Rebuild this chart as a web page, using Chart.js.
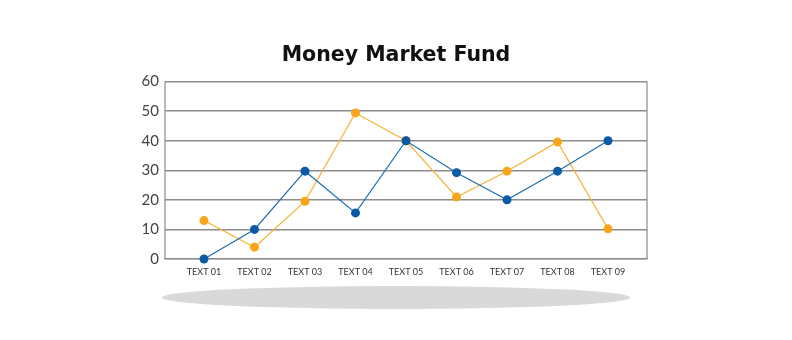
<!DOCTYPE html>
<html>
<head>
<meta charset="utf-8">
<script src="https://cdn.jsdelivr.net/npm/chart.js@4"></script>
<style>
  body { margin: 0; background: #fff; }
  #wrap { position: relative; width: 792px; height: 340px; }
  #shadow { position: absolute; left: 162px; top: 286px; width: 468px; height: 23px; border-radius: 50%; background: #d9d9d9; }
  canvas { position: absolute; left: 0; top: 0; }
</style>
</head>
<body>
<div id="wrap">
  <div id="shadow"></div>
  <canvas id="chart" width="792" height="340"></canvas>
</div>
<script>
const labels = ["TEXT 01", "TEXT 02", "TEXT 03", "TEXT 04", "TEXT 05", "TEXT 06", "TEXT 07", "TEXT 08", "TEXT 09"];
const blueValues = [0, 10, 29.7, 15.6, 40, 29.2, 20, 29.7, 40];
const orangeValues = [13, 4, 19.5, 49.4, 40, 21, 29.7, 39.6, 10.2];
const yTicks = [0, 10, 20, 30, 40, 50, 60];

function toPoints(vals) {
    return vals.map((v, i) => ({ x: i, y: v }));
}

// box round the plot area
const frame = {
    id: 'frame',
    beforeDatasetsDraw(chart) {
        const a = chart.chartArea;
        const ctx = chart.ctx;
        ctx.save();
        ctx.strokeStyle = '#8c8c8c';
        ctx.lineWidth = 1.2;
        ctx.beginPath();
        ctx.moveTo(a.left, a.top);
        ctx.lineTo(a.left, a.bottom);
        ctx.moveTo(a.right, a.top);
        ctx.lineTo(a.right, a.bottom);
        ctx.stroke();
        ctx.restore();
    }
};

new Chart(document.getElementById("chart"), {
    type: 'line',
    data: {
        datasets: [{
            label: 'A',
            data: toPoints(blueValues),
            borderColor: '#1f6fb5',
            backgroundColor: '#0b5aa6',
            borderWidth: 1.2,
            pointRadius: 4.5,
            pointBorderWidth: 0,
            tension: 0,
            clip: false
        }, {
            label: 'B',
            data: toPoints(orangeValues),
            borderColor: '#f9b233',
            backgroundColor: '#f9a51a',
            borderWidth: 1.2,
            pointRadius: 4.5,
            pointBorderWidth: 0,
            tension: 0,
            clip: false
        }]
    },
    options: {
        responsive: false,
        animation: false,
        layout: { padding: { left: 124, right: 124, top: 0, bottom: 61 } },
        plugins: {
            legend: { display: false },
            tooltip: { enabled: false },
            title: {
                display: true,
                text: 'Money Market Fund',
                color: '#111',
                font: { family: 'DejaVu Sans', size: 20.5, weight: 'bold' },
                padding: { top: 43, bottom: 14 }
            }
        },
        scales: {
            x: {
                type: 'linear',
                min: -0.772,
                max: 8.772,
                afterFit: s => { s.height = 20; },
                grid: { display: false },
                border: { color: '#8c8c8c', width: 1.2 },
                ticks: {
                    stepSize: 1,
                    includeBounds: false,
                    autoSkip: false,
                    maxRotation: 0,
                    padding: 0,
                    color: '#333',
                    font: { family: 'Lato', size: 9 },
                    callback: v => labels[v] || ''
                }
            },
            y: {
                min: 0,
                max: 60,
                afterFit: s => { s.width = 41; },
                afterBuildTicks: s => { s.ticks = yTicks.map(v => ({ value: v })); },
                grid: { color: '#8c8c8c', lineWidth: 1.5, drawTicks: false },
                border: { display: false },
                ticks: {
                    padding: 6,
                    color: '#444',
                    font: { family: 'Lato', size: 15 }
                }
            },
            y2: {
                position: 'right',
                min: 0,
                max: 60,
                afterFit: s => { s.width = 21; },
                grid: { display: false },
                border: { display: false },
                ticks: { display: false }
            }
        }
    },
    plugins: [frame]
});
</script>
</body>
</html>
